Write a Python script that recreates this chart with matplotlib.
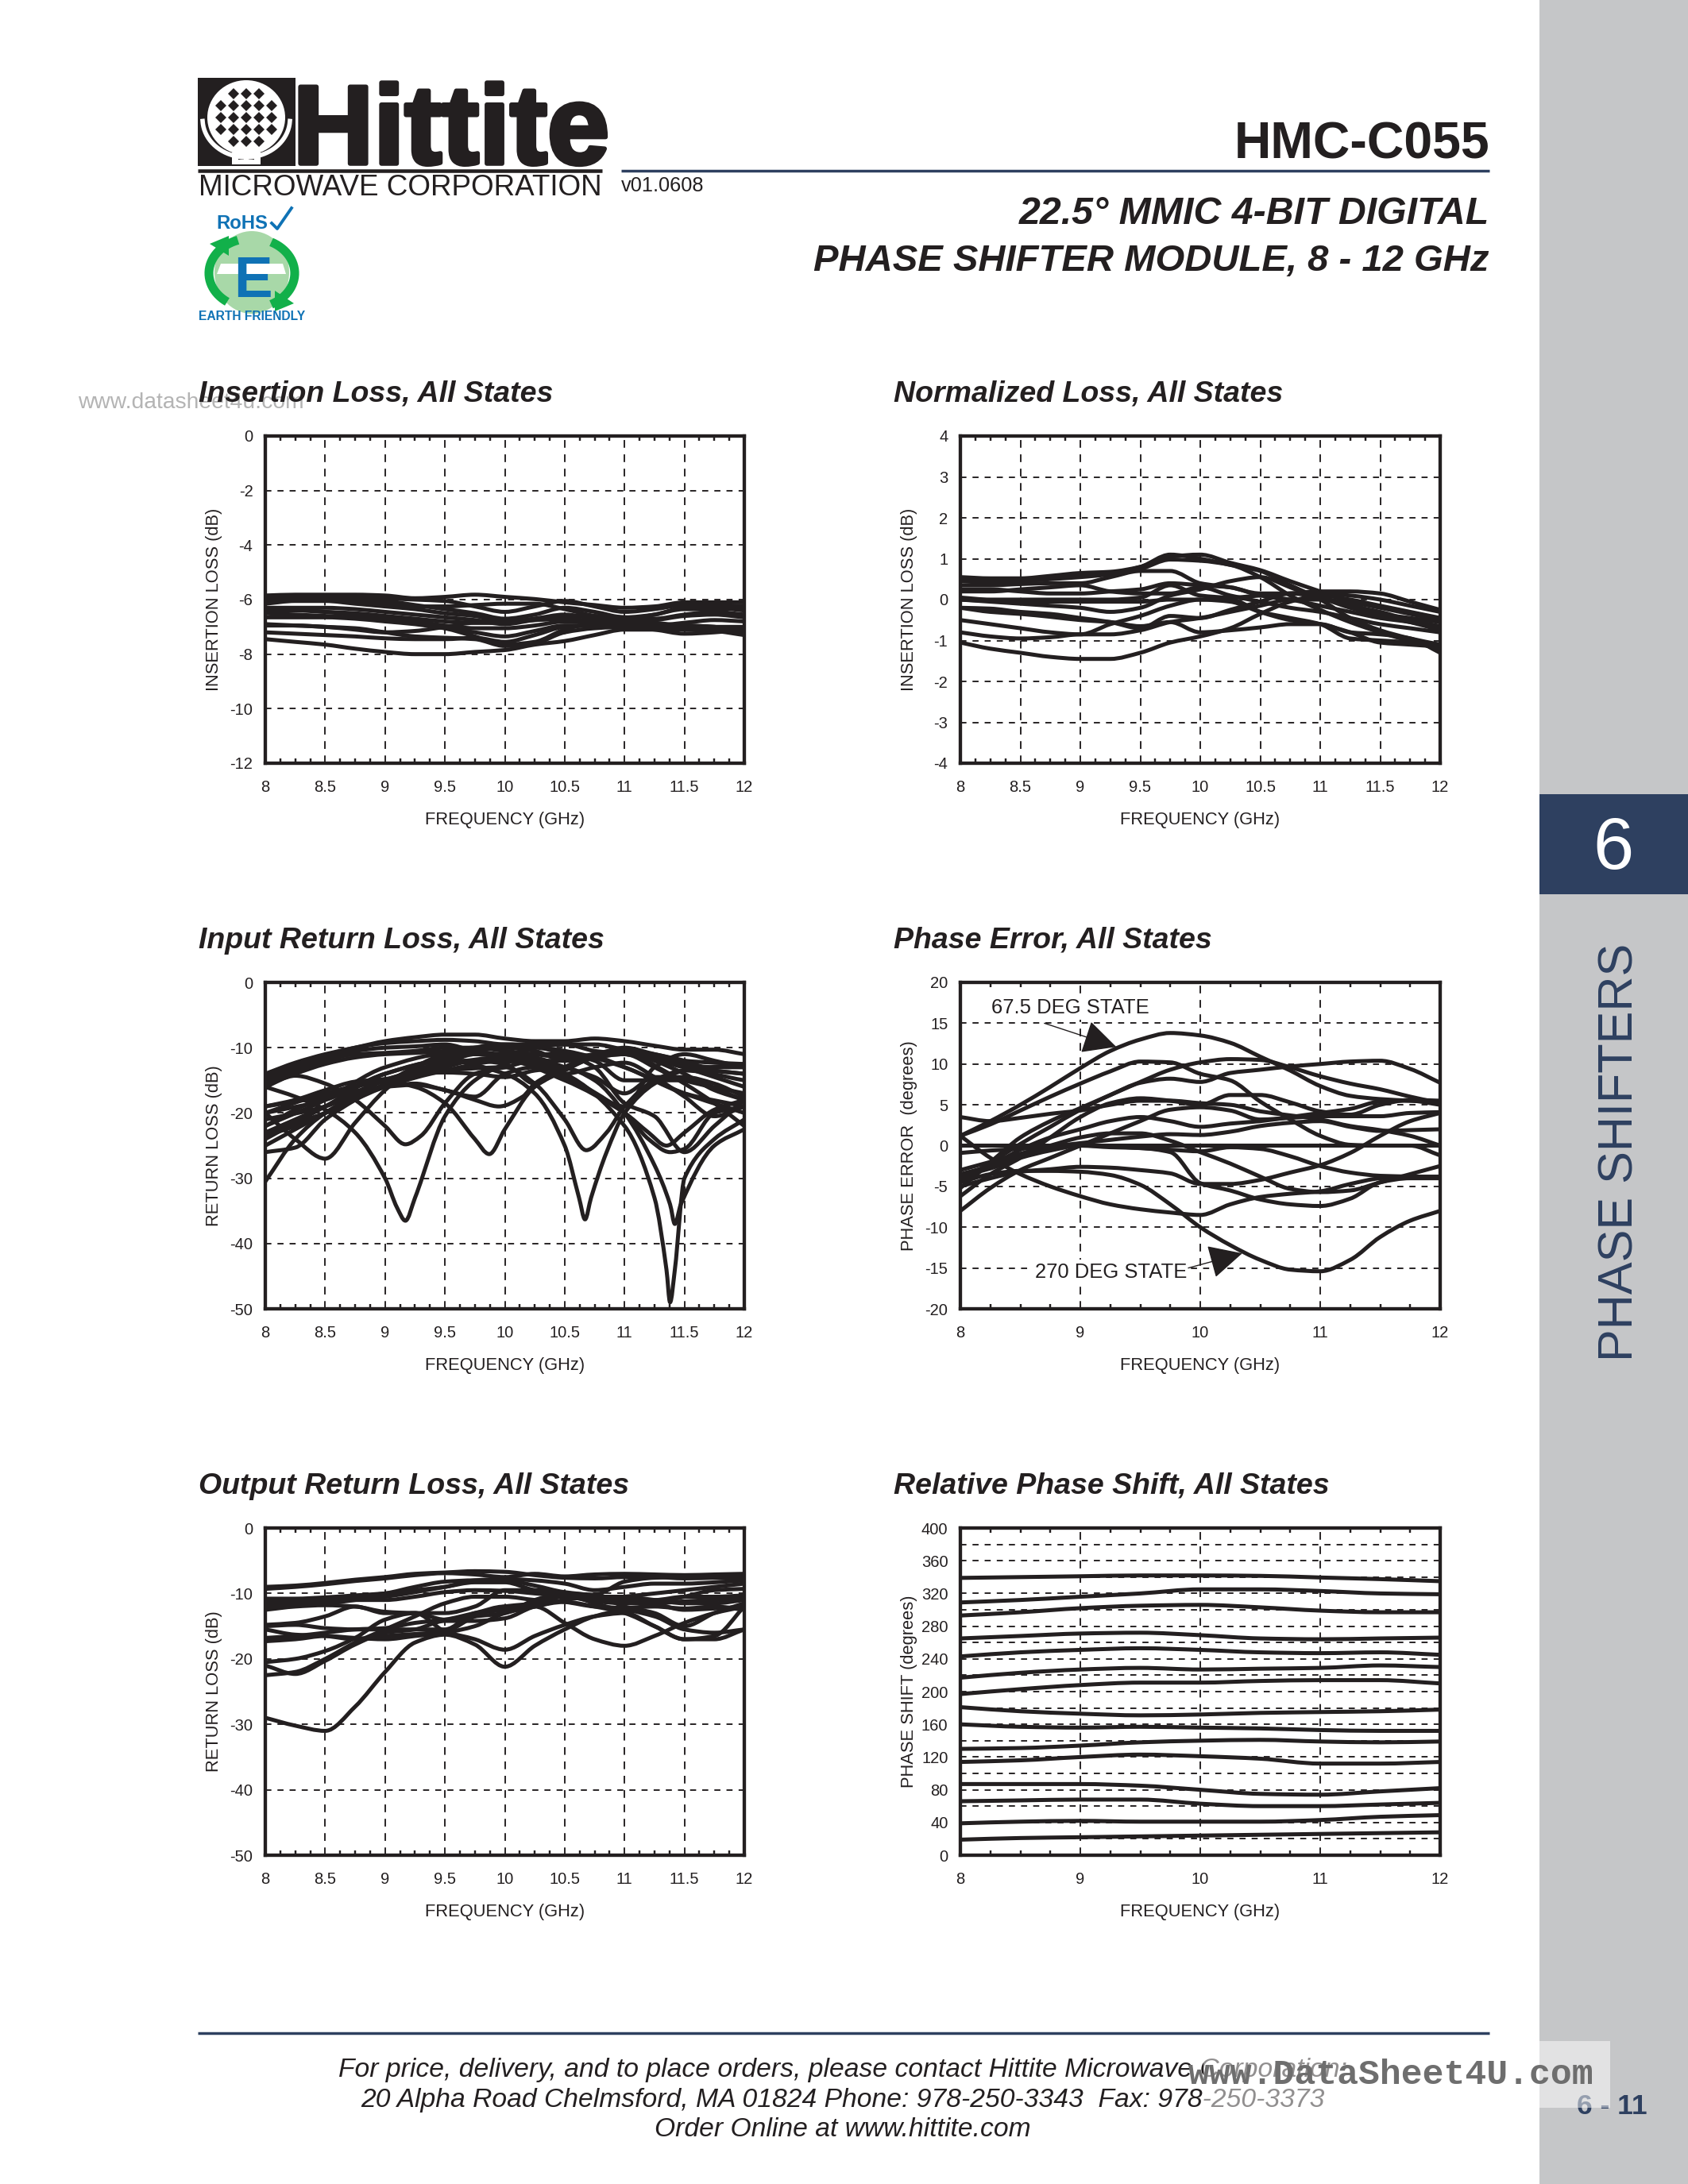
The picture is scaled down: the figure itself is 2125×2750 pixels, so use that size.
import numpy as np
import matplotlib
matplotlib.use('Agg')
import matplotlib.pyplot as plt
import matplotlib.patheffects as pe
from matplotlib.patches import Rectangle, Ellipse, Polygon, PathPatch
from matplotlib.path import Path
from matplotlib.ticker import MultipleLocator

plt.rcParams['font.family'] = ['Liberation Sans', 'DejaVu Sans']
plt.rcParams['lines.scale_dashes'] = False
plt.rcParams['axes.unicode_minus'] = False

INK = '#231f20'
NAVY = '#2e4060'
W, H = 2125, 2750

# shared frequency grids (GHz)
freq_q = [8, 8.25, 8.5, 8.75, 9, 9.25, 9.5, 9.75, 10, 10.25, 10.5, 10.75, 11, 11.25, 11.5, 11.75, 12]
freq_h = [8, 8.5, 9, 9.5, 10, 10.5, 11, 11.5, 12]

insertion_loss = [
    [-5.85, -5.82, -5.82, -5.82, -5.85, -5.95, -5.9, -5.82, -5.9, -5.98, -6.1, -6.2, -6.3, -6.25, -6.1, -6.1, -6.1],
    [-5.9, -5.85, -5.85, -5.9, -5.95, -6.0, -6.05, -6.25, -6.45, -6.25, -6.05, -6.25, -6.45, -6.35, -6.2, -6.2, -6.25],
    [-6.0, -5.95, -5.95, -6.0, -6.05, -6.2, -6.35, -6.5, -6.7, -6.55, -6.3, -6.45, -6.65, -6.55, -6.3, -6.3, -6.4],
    [-6.15, -6.05, -6.05, -6.15, -6.25, -6.35, -6.5, -6.6, -6.82, -6.7, -6.6, -6.6, -6.65, -6.7, -6.55, -6.45, -6.55],
    [-6.3, -6.3, -6.3, -6.35, -6.45, -6.55, -6.65, -6.75, -6.9, -6.75, -6.7, -6.85, -6.8, -6.75, -6.6, -6.55, -6.65],
    [-6.4, -6.4, -6.45, -6.5, -6.6, -6.7, -6.8, -6.85, -6.85, -6.7, -6.55, -6.7, -6.85, -6.95, -6.85, -6.75, -6.8],
    [-6.5, -6.55, -6.6, -6.65, -6.7, -6.8, -6.95, -7.05, -7.05, -6.95, -6.8, -6.85, -6.9, -7.0, -7.05, -7.0, -7.0],
    [-6.65, -6.65, -6.65, -6.7, -6.8, -6.9, -7.05, -7.2, -7.35, -7.15, -6.95, -6.95, -7.0, -7.05, -7.1, -7.05, -7.1],
    [-6.9, -6.95, -7.0, -7.1, -7.2, -7.15, -7.0, -6.85, -6.85, -6.75, -6.7, -6.8, -6.9, -7.0, -6.95, -7.0, -7.15],
    [-7.2, -7.25, -7.3, -7.35, -7.42, -7.45, -7.45, -7.4, -7.55, -7.3, -7.0, -6.95, -6.9, -7.0, -7.1, -7.15, -7.3],
    [-6.95, -6.95, -7.0, -7.05, -7.2, -7.35, -7.4, -7.45, -7.7, -7.6, -7.2, -7.05, -7.0, -7.1, -7.25, -7.2, -7.1],
    [-7.45, -7.55, -7.65, -7.8, -7.92, -8.0, -8.0, -7.92, -7.85, -7.65, -7.52, -7.3, -7.1, -7.1, -7.05, -7.1, -7.2],
    [-6.3, -6.35, -6.45, -6.55, -6.7, -6.85, -7.05, -7.35, -7.65, -7.55, -7.1, -6.85, -6.75, -6.55, -6.35, -6.35, -6.3],
    [-6.05, -6.0, -6.0, -6.05, -6.15, -6.25, -6.25, -6.2, -6.15, -6.15, -6.35, -6.6, -6.75, -6.85, -6.95, -7.0, -7.2],
]

normalized_loss = [
    [-1.05, -1.2, -1.3, -1.4, -1.45, -1.45, -1.3, -1.05, -0.9, -0.7, -0.35, -0.05, 0.1, 0.0, -0.15, -0.3, -0.45],
    [-0.8, -0.9, -0.95, -0.92, -0.85, -0.85, -0.75, -0.55, -0.45, -0.3, -0.15, 0.0, 0.0, -0.2, -0.4, -0.55, -0.75],
    [-0.5, -0.6, -0.7, -0.8, -0.85, -0.6, -0.4, -0.15, 0.0, 0.0, -0.3, -0.5, -0.6, -0.8, -1.05, -1.1, -1.15],
    [-0.2, -0.3, -0.35, -0.42, -0.5, -0.55, -0.65, -0.55, -0.8, -0.75, -0.68, -0.6, -0.6, -0.8, -0.85, -0.95, -1.3],
    [-0.2, -0.22, -0.3, -0.35, -0.45, -0.55, -0.7, -0.4, -0.45, -0.25, -0.05, 0.15, 0.15, 0.1, 0.0, -0.15, -0.3],
    [0.0, -0.05, -0.1, -0.15, -0.2, -0.3, -0.2, 0.1, 0.25, 0.45, 0.55, 0.3, 0.0, -0.45, -0.75, -0.95, -1.1],
    [0.0, -0.03, -0.05, -0.05, -0.05, -0.05, -0.05, 0.0, 0.0, -0.05, -0.3, -0.45, -0.6, -0.95, -1.0, -1.05, -1.2],
    [0.05, 0.0, 0.0, 0.0, 0.0, 0.0, 0.05, 0.35, 0.1, 0.05, 0.1, 0.15, 0.2, 0.2, 0.15, -0.05, -0.25],
    [0.2, 0.2, 0.25, 0.3, 0.35, 0.2, 0.15, 0.15, 0.3, 0.1, -0.05, -0.2, -0.3, -0.45, -0.6, -0.7, -0.8],
    [0.25, 0.25, 0.2, 0.15, 0.15, 0.2, 0.25, 0.4, 0.35, 0.3, 0.1, 0.0, -0.15, -0.3, -0.45, -0.55, -0.7],
    [0.35, 0.35, 0.38, 0.4, 0.4, 0.55, 0.7, 0.7, 0.4, 0.3, 0.15, 0.15, 0.05, -0.15, -0.3, -0.5, -0.65],
    [0.45, 0.42, 0.45, 0.5, 0.55, 0.62, 0.75, 0.98, 0.95, 0.85, 0.55, 0.1, -0.25, -0.55, -0.8, -1.0, -1.1],
    [0.5, 0.48, 0.5, 0.55, 0.62, 0.65, 0.8, 1.1, 1.0, 0.85, 0.7, 0.35, 0.05, -0.1, -0.35, -0.45, -0.55],
    [0.55, 0.52, 0.52, 0.58, 0.65, 0.68, 0.8, 1.05, 1.1, 0.9, 0.72, 0.45, 0.2, -0.05, -0.2, -0.35, -0.5],
]

# input return loss, smooth states on the quarter GHz grid
input_rl = [
    [-14, -12.3, -11, -10, -9, -8.4, -8, -8, -8.6, -9, -9, -8.6, -9, -9.7, -10.3, -10.3, -11],
    [-14.5, -12.8, -11.2, -10, -9.3, -9, -8.8, -9, -9.5, -9.5, -9.5, -9.5, -10.3, -11, -12, -12.3, -12.5],
    [-15, -13.2, -11.5, -10.5, -10, -9.8, -9.5, -10.5, -11, -10, -9.5, -10.5, -11, -11.5, -12.5, -13, -13],
    [-15.5, -13.5, -12, -11, -10.8, -10.5, -10, -10, -10.5, -11, -11.5, -11, -10, -11, -12, -13.5, -14],
    [-15.8, -14, -12.5, -11.5, -11, -10.8, -10.5, -10, -10, -10.5, -12, -11, -10.5, -11.5, -13, -14.5, -16],
    [-19, -18, -16.5, -15.2, -14.8, -13.5, -12, -11, -11, -11.5, -13, -14.5, -17, -14.5, -14.5, -15.5, -17.5],
    [-22, -19.5, -17.5, -16, -15, -14, -13.8, -14, -14.5, -13.5, -13, -11.5, -10.5, -12, -14, -16.5, -18],
    [-23, -21, -19, -17, -16, -15.5, -16.5, -17.5, -14, -13, -14, -13, -12.3, -14.5, -17.5, -20.5, -19],
    [-23.5, -22, -20, -17.5, -16, -14.5, -13, -12, -12.5, -15.5, -13, -11.5, -11, -13, -15.5, -18.5, -22],
    [-26, -25.3, -21, -18, -15.5, -13, -11.5, -10.5, -10, -10, -11, -13, -18.5, -20.5, -26, -22, -18],
    [-30.5, -24, -20, -17.5, -15.7, -14, -12.5, -11, -11.5, -12, -14, -17, -19, -13, -11, -12, -13],
]
input_rl_dips_x = [
    [8, 8.25, 8.5, 8.75, 9, 9.1, 9.17, 9.25, 9.5, 9.75, 10, 10.25, 10.5, 10.75, 11, 11.5, 12],
    [8, 8.25, 8.5, 8.75, 9, 9.17, 9.3, 9.5, 9.75, 10, 10.25, 10.5, 10.75, 11, 11.5, 12],
    [8, 8.5, 9, 9.25, 9.5, 9.75, 9.87, 10, 10.25, 10.5, 10.75, 11, 11.5, 12],
    [8, 8.5, 9, 9.25, 9.5, 9.75, 9.95, 10.15, 10.25, 10.5, 10.75, 11, 11.5, 12],
    [8, 8.25, 8.5, 8.75, 9, 9.25, 9.5, 10, 10.5, 11, 11.5, 12],
    [8, 8.5, 9, 9.5, 10, 10.25, 10.5, 10.62, 10.67, 10.72, 10.85, 11, 11.25, 11.5, 12],
    [8, 8.5, 9, 9.5, 10, 10.25, 10.5, 10.68, 10.85, 11, 11.25, 11.5, 12],
    [8, 8.5, 9, 9.5, 10, 10.5, 11, 11.25, 11.35, 11.38, 11.42, 11.5, 11.75, 12],
    [8, 8.5, 9, 9.5, 10, 10.5, 10.75, 11, 11.25, 11.38, 11.42, 11.47, 11.75, 12],
    [8, 8.5, 9, 9.5, 10, 10.5, 11, 11.2, 11.35, 11.5, 11.75, 12],
    [8, 8.5, 9, 9.5, 10, 10.5, 11, 11.2, 11.38, 11.5, 11.75, 12],
]
input_rl_dips_y = [
    [-16, -17.5, -19.5, -23, -30, -34.5, -36.5, -33, -20.5, -15, -12.5, -11, -11, -12, -15, -15, -18],
    [-16, -14.3, -15.5, -18, -22, -24.8, -23.5, -18.5, -14, -13, -12, -12, -11.5, -13, -17, -20],
    [-20, -17, -15.2, -16, -18.5, -24, -26.3, -22.5, -16, -13.5, -11.5, -11, -15, -17],
    [-19, -17.5, -16, -15.7, -16.5, -18, -19, -17.5, -15.5, -13, -11, -10.5, -13, -14],
    [-20, -24, -27, -21.5, -16.5, -13, -11, -9.5, -10.5, -13, -17, -19],
    [-20, -18, -14, -12, -14, -17, -25, -33, -36.3, -33, -26, -20, -15.5, -13.5, -12.5],
    [-21, -19, -15, -13.5, -13, -15.5, -21, -25.7, -23, -19, -15, -13.5, -15],
    [-22, -18, -13, -11, -11, -14, -22, -33, -44, -49, -44, -30, -24, -21],
    [-23, -20, -16, -13.5, -12, -13, -15, -20, -28, -34, -37, -34, -25, -22.5],
    [-24, -19, -14, -12, -12, -15, -20, -23, -25, -23, -19.5, -18],
    [-25, -20, -15, -12.5, -11.5, -14.5, -20, -24, -26, -25.5, -20, -19],
]

output_rl = [
    [-29, -30.2, -31, -27.3, -22, -17.5, -16.3, -17.8, -21.2, -18, -15.5, -13.5, -12.6, -13.5, -15.5, -16, -15.5],
    [-20.5, -20, -18.8, -16.8, -14, -13, -15.8, -17, -18.6, -16.5, -14.8, -13.5, -13, -15, -17, -17, -15.5],
    [-16.8, -16.5, -16, -15.5, -15.3, -14.5, -14, -13, -12, -12, -14.5, -17, -18, -16.5, -14.5, -13, -12],
    [-22.5, -22, -20, -17.5, -15.5, -13.5, -11.5, -10.5, -10.5, -11, -11.3, -12, -12.2, -12, -12.3, -12, -12.5],
    [-21, -22.3, -20.3, -17.8, -16, -15.5, -14.2, -14.2, -13.8, -12, -11.3, -12, -13, -15, -17, -16.5, -12],
    [-17.3, -17, -16.5, -16.8, -17, -16.5, -16, -15, -13, -12, -11, -10.5, -10.5, -11.5, -12.5, -12.3, -12],
    [-15.5, -16.3, -16.5, -17, -16.5, -16.2, -15.8, -13.5, -12, -11.5, -10, -10.3, -12, -13, -15, -13, -11.5],
    [-15, -14.8, -15.3, -15.5, -15.5, -15.5, -15.5, -13, -12.5, -11.5, -10.5, -11, -10.5, -11, -11.5, -11.5, -11],
    [-14.8, -14.5, -13.5, -12, -13, -13, -14, -13.5, -13, -11, -10, -10.8, -11, -11, -10.5, -10.5, -10.3],
    [-12.5, -12, -11.8, -12, -12.8, -13, -13, -12, -9.5, -9.5, -10, -11.5, -12.5, -11.5, -10.5, -9.5, -9.3],
    [-11.5, -11.5, -11.5, -11, -10.5, -9.8, -9, -8.3, -8.3, -9.5, -10, -11, -10.5, -10, -9.5, -9, -8.5],
    [-10.8, -10.8, -10.6, -10.3, -10, -9.5, -9, -8, -7.8, -8, -8.5, -9.5, -9, -8.5, -8.5, -8.3, -8],
    [-11, -11.2, -11, -10.5, -10, -9, -8.2, -8, -8, -8.8, -9.8, -10.2, -8.2, -7.6, -7.5, -7.6, -7.8],
    [-9, -8.8, -8.4, -7.9, -7.5, -7, -6.8, -6.6, -6.7, -7.2, -7.6, -7.7, -7.5, -7.5, -7.7, -7.6, -7.4],
    [-9.3, -9, -8.6, -8.1, -7.7, -7.2, -6.9, -7.1, -7.5, -7, -7.4, -7.1, -7, -7.1, -7.2, -7.1, -7],
    [-12, -11.5, -11.2, -11, -11, -10.5, -9.8, -9.5, -9.6, -10, -10.4, -11.2, -11.5, -11.5, -11.2, -11, -10.8],
]

phase_error = [
    [1.2, 3.0, 5.0, 7.2, 9.5, 11.6, 13.0, 13.8, 13.5, 12.6, 10.9, 9.2, 7.3, 6.1, 5.7, 5.5, 5.3],
    [1.2, 2.6, 4.3, 6.0, 7.6, 9.1, 10.3, 10.2, 8.8, 8.0, 5.4, 3.2, 1.2, 0.1, 0.0, 0.0, -1.2],
    [-4.5, -2, 1, 3, 4.6, 6.2, 7.8, 9.3, 10.2, 10.6, 10.5, 9.6, 8.5, 7.6, 6.9, 6.0, 5.2],
    [-5.2, -2.2, 0.2, 2.3, 4.4, 6.2, 7.7, 8.2, 7.8, 8.9, 9.3, 9.7, 10, 10.3, 10.4, 9.4, 7.7],
    [-6.2, -3.5, -1.5, 1, 3.5, 5.2, 5.8, 5.5, 5.0, 6.2, 6.2, 5.3, 4.2, 3.8, 5.0, 5.6, 5.5],
    [3.5, 3, 3.4, 3.9, 4.3, 5, 5.5, 5.5, 5.2, 5, 4.2, 3.7, 3.2, 2.4, 1.9, 1.2, 0],
    [-8, -5.2, -3, -1.5, 0, 1.5, 3, 4.4, 4.7, 4.3, 3.2, 3.4, 3.6, 3.6, 3.6, 4.0, 4.1],
    [1.2, -1.5, -3.5, -5, -6.2, -7.2, -7.8, -8.2, -8.5, -7.2, -6.3, -5.9, -5.6, -4.7, -4, -3.8, -3.8],
    [-4.5, -3.5, -3.1, -3.1, -3.2, -3.6, -4.8, -7.2, -10, -12.2, -14, -15.2, -15.4, -14, -11.2, -9.2, -8],
    [-5, -4, -3.2, -2.9, -2.6, -2.7, -3, -3.4, -4.7, -4.7, -4.2, -3.3, -2.4, -0.9, 1.2, 3, 4],
    [-3.5, -2.5, -1.2, -0.3, 0, -0.2, -0.3, -0.8, -4.6, -5.5, -6.6, -7.2, -7.4, -6.5, -4.5, -4, -4],
    [-3, -2, -1, 0, 1, 1.5, 1.5, 0.6, -0.8, -2.2, -3.8, -5.3, -5.7, -5.5, -4.5, -3.5, -2.5],
    [-0.9, -0.6, -0.4, -0.1, 0.3, 0.7, 1.1, 1.4, 1.3, 1.7, 2.4, 2.8, 3, 2.3, 1.8, 1.9, 2],
    [-4, -2.5, -0.5, 1, 2, 3, 3.5, 3, 2.3, 2.7, 3, 3.5, 4, 4.5, 5.4, 5.5, 5],
    [0, 0, 0, 0, 0, 0, 0, 0, 0, 0, 0, 0, 0, 0, 0, 0, 0],
    [-3.7, -2.8, -1.5, -0.6, 0, -0.1, -0.3, -0.5, -0.7, -0.2, -0.4, -1.3, -2.5, -3.3, -3.7, -3.8, -4],
]

relative_phase = [
    [339, 340, 341, 342, 342, 341.5, 339.5, 337.5, 335],
    [309, 312, 316, 320, 325, 325, 323, 320, 319],
    [293, 297, 302, 305, 306, 303, 299, 297, 297],
    [265, 268, 271, 272, 269, 265, 264, 265, 266],
    [243, 248, 251, 253, 251, 248, 247, 248, 245],
    [217, 223, 227, 229, 227, 228, 229, 232, 230],
    [197, 203, 208, 211, 211, 213, 214, 214, 210],
    [181, 176, 173, 171, 172, 174, 175, 176, 178],
    [160, 157, 156, 157, 156, 155, 153, 152, 152],
    [130, 131, 134, 138, 140, 141, 139, 138, 139],
    [114, 116, 120, 123, 121, 118, 112, 112, 114],
    [87, 87, 87, 85, 80, 75, 74, 78, 82],
    [66, 67, 68, 68, 63, 60, 60, 62, 64],
    [39, 41, 42, 41, 41, 41, 43, 47, 49],
    [19, 21, 22, 23, 24, 25, 26, 27, 28],
]

x_half = [8, 8.5, 9, 9.5, 10, 10.5, 11, 11.5, 12]
x_half_labels = ['8', '8.5', '9', '9.5', '10', '10.5', '11', '11.5', '12']
x_one = [8, 9, 10, 11, 12]
x_one_labels = ['8', '9', '10', '11', '12']

fig = plt.figure(figsize=(8.5, 11), dpi=250, facecolor='white')

# page layer in pixel coordinates
bg = fig.add_axes([0, 0, 1, 1], zorder=0)
bg.set_xlim(0, W)
bg.set_ylim(H, 0)
bg.axis('off')

# side tab
bg.add_patch(Rectangle((1938, 0), W - 1938, H, fc='#c5c6c8', ec='none'))
bg.add_patch(Rectangle((1938, 1000), W - 1938, 126, fc=NAVY, ec='none'))
bg.text(2031, 1070, '6', color='white', fontsize=26.5, ha='center', va='center')
bg.text(2040, 1451, 'PHASE SHIFTERS', color=NAVY, fontsize=17.6, rotation=90, ha='center', va='center')

# header rules
bg.plot([782, 1875], [215, 215], color=NAVY, lw=1.0, solid_capstyle='butt')
bg.plot([249, 1875], [2560, 2560], color=NAVY, lw=1.0, solid_capstyle='butt')

# Hittite logo
bg.add_patch(Rectangle((249, 98), 123, 111, fc=INK, ec='none'))
bg.add_patch(Ellipse((310, 148), 98, 94, fc='white', ec='none'))
t = np.linspace(0.05, np.pi - 0.05, 40)
bg.plot(310 + 55 * np.cos(t), 150 + 48 * np.sin(t), color='white', lw=1.6)
bg.add_patch(Rectangle((292, 192), 36, 15, fc='white', ec='none'))
bg.add_patch(Rectangle((300, 196), 7, 5, fc=INK, ec='none'))
bg.add_patch(Rectangle((313, 196), 7, 5, fc=INK, ec='none'))
for dx in (-32, -16, 0, 16, 32):
    for dy in (-30, -15, 0, 15, 30):
        if dx * dx + dy * dy < 1500:
            bg.plot(310 + dx, 148 + dy, marker='D', ms=2.9, color=INK, mew=0)
bg.plot([249, 758], [215, 215], color=INK, lw=1.3, solid_capstyle='butt')
bg.text(568, 206, 'Hittite', color=INK, fontsize=40.5, fontweight='bold', ha='center', va='baseline',
        path_effects=[pe.withStroke(linewidth=1.6, foreground=INK)])
bg.text(504, 246, 'MICROWAVE CORPORATION', color=INK, fontsize=10.6, ha='center', va='baseline')
bg.text(782, 241, 'v01.0608', color=INK, fontsize=7.3, ha='left', va='baseline')

# RoHS / earth friendly mark
bg.text(272, 288, 'RoHS', color='#0f72b5', fontsize=6.9, fontweight='bold', ha='left', va='baseline')
bg.plot([342, 349, 367], [281, 288, 262], color='#0f72b5', lw=1.1)
bg.add_patch(Ellipse((317, 343), 94, 104, fc='#a8d8a8', ec='none'))
bg.add_patch(Polygon([[273, 345], [360, 345], [356, 332], [278, 332]], fc='white', ec='none'))
bg.add_patch(Polygon([[317, 296], [338, 332], [296, 332]], fc='#a8d8a8', ec='none'))
a1 = np.linspace(1.9, 4.1, 30)
bg.plot(317 + 54 * np.cos(a1), 344 - 44 * np.sin(a1), color='#12b04a', lw=3.2, solid_capstyle='butt')
a2 = np.linspace(-1.1, 1.1, 30)
bg.plot(317 + 54 * np.cos(a2), 344 - 44 * np.sin(a2), color='#12b04a', lw=3.2, solid_capstyle='butt')
bg.add_patch(Polygon([[288, 297], [288, 322], [264, 307]], fc='#12b04a', ec='none'))
bg.add_patch(Polygon([[346, 392], [346, 366], [370, 382]], fc='#12b04a', ec='none'))
bg.text(318, 374, 'E', color='#0f72b5', fontsize=21, fontweight='bold', ha='center', va='baseline')
bg.text(250, 403, 'EARTH FRIENDLY', color='#0f72b5', fontsize=4.5, fontweight='bold', ha='left', va='baseline')

# header titles
bg.text(1875, 199, 'HMC-C055', color=INK, fontsize=18.5, fontweight='bold', ha='right', va='baseline')
bg.text(1875, 282, '22.5° MMIC 4-BIT DIGITAL', color=INK, fontsize=13.9, fontweight='bold', style='italic', ha='right', va='baseline')
bg.text(1875, 341, 'PHASE SHIFTER MODULE, 8 - 12 GHz', color=INK, fontsize=13.6, fontweight='bold', style='italic', ha='right', va='baseline')

# scraped watermark behind the first title
bg.text(98, 507, 'www.datasheet4u.com', color='#b4b4b4', fontsize=8.15, ha='left', va='center', zorder=1)

# footer
foot = ['For price, delivery, and to place orders, please contact Hittite Microwave Corporation:',
        '20 Alpha Road Chelmsford, MA 01824 Phone: 978-250-3343  Fax: 978-250-3373',
        'Order Online at www.hittite.com']
for yy, line in zip([2606, 2644, 2682], foot):
    bg.text(1061, yy, line, color=INK, fontsize=9.7, style='italic', ha='center', va='center')
bg.text(2029, 2652, '6 - 11', color=NAVY, fontsize=10.2, fontweight='bold', ha='center', va='center')
bg.add_patch(Rectangle((1515, 2570), 512, 84, fc='white', ec='none', alpha=0.5, zorder=4))
bg.text(1751, 2612, 'www.DataSheet4U.com', color='#6e6e6e', fontsize=12.9, fontweight='bold',
        family=['Liberation Mono', 'DejaVu Sans'], ha='center', va='center', zorder=5)


def panel(left, right, top, bottom, ylim, yticks, ylabels, xticks, xlabels, xminor,
          title, ylabel, yminor=None):
    ax = fig.add_axes([left / W, 1 - bottom / H, (right - left) / W, (bottom - top) / H],
                      zorder=2, facecolor='none')
    ax.set_xlim(8, 12)
    ax.set_ylim(*ylim)
    ax.set_xticks(xticks, labels=xlabels)
    ax.set_yticks(yticks, labels=ylabels)
    ax.xaxis.set_minor_locator(MultipleLocator(xminor))
    if yminor:
        ax.yaxis.set_minor_locator(MultipleLocator(yminor))
    else:
        ax.yaxis.set_minor_locator(plt.NullLocator())
    ax.tick_params(axis='x', which='major', length=0, pad=6, labelsize=5.8, labelcolor=INK)
    ax.tick_params(axis='y', which='both', length=0, pad=4.5, labelsize=5.8, labelcolor=INK)
    ax.tick_params(axis='x', which='minor', direction='in', top=True, bottom=True,
                   length=1.6, width=0.7, color=INK)
    ax.grid(True, axis='x', which='major', color=INK, lw=0.55, linestyle=(0, (2.8, 2.4)))
    ax.grid(True, axis='y', which='both', color=INK, lw=0.55, linestyle=(0, (2.2, 2.2)))
    ax.set_axisbelow(True)
    for s in ax.spines.values():
        s.set_linewidth(1.25)
        s.set_color(INK)
    ax.set_xlabel('FREQUENCY (GHz)', fontsize=6.3, color=INK)
    ax.xaxis.set_label_coords(0.5, -0.148)
    ax.set_ylabel(ylabel, fontsize=6.3, color=INK)
    ax.yaxis.set_label_coords(-0.089, 0.5)
    bg.text(left - 84, top - 53, title, color=INK, fontsize=10.8, fontweight='bold', style='italic',
            ha='left', va='center')
    return ax


def curve(ax, xs, ys):
    # one state as a smooth cubic through its read values, flat at each turning point
    xs = np.asarray(xs, float)
    ys = np.asarray(ys, float)
    s = np.diff(ys) / np.diff(xs)
    m = np.zeros_like(ys)
    m[0], m[-1] = s[0], s[-1]
    for i in range(1, len(ys) - 1):
        if s[i - 1] * s[i] > 0:
            m[i] = 2 * s[i - 1] * s[i] / (s[i - 1] + s[i])
    verts = [(xs[0], ys[0])]
    codes = [Path.MOVETO]
    for i in range(len(xs) - 1):
        h = (xs[i + 1] - xs[i]) / 3
        verts += [(xs[i] + h, ys[i] + m[i] * h), (xs[i + 1] - h, ys[i + 1] - m[i + 1] * h), (xs[i + 1], ys[i + 1])]
        codes += [Path.CURVE4] * 3
    ax.add_patch(PathPatch(Path(verts, codes), fc='none', ec=INK, lw=LW, capstyle='round', joinstyle='round'))


LW = 1.45
X1, X2 = 334, 937
X3, X4 = 1209, 1813
half_args = (x_half, x_half_labels, 0.125)
one_args = (x_one, x_one_labels, 0.25)

# Insertion loss
ax = panel(X1, X2, 549, 961, (-12, 0), [0, -2, -4, -6, -8, -10, -12],
           ['0', '-2', '-4', '-6', '-8', '-10', '-12'], *half_args,
           'Insertion Loss, All States', 'INSERTION LOSS (dB)')
for y in insertion_loss:
    curve(ax, freq_q, y)

# Normalized loss
ax = panel(X3, X4, 549, 961, (-4, 4), [4, 3, 2, 1, 0, -1, -2, -3, -4],
           ['4', '3', '2', '1', '0', '-1', '-2', '-3', '-4'], *half_args,
           'Normalized Loss, All States', 'INSERTION LOSS (dB)')
for y in normalized_loss:
    curve(ax, freq_q, y)

# Input return loss
rl_ticks = [0, -10, -20, -30, -40, -50]
rl_labels = ['0', '-10', '-20', '-30', '-40', '-50']
ax = panel(X1, X2, 1237, 1648, (-50, 0), rl_ticks, rl_labels, *half_args,
           'Input Return Loss, All States', 'RETURN LOSS (dB)')
for y in input_rl:
    curve(ax, freq_q, y)
for xs, ys in zip(input_rl_dips_x, input_rl_dips_y):
    curve(ax, xs, ys)

# Phase error
ax = panel(X3, X4, 1237, 1648, (-20, 20), [20, 15, 10, 5, 0, -5, -10, -15, -20],
           ['20', '15', '10', '5', '0', '-5', '-10', '-15', '-20'], *one_args,
           'Phase Error, All States', 'PHASE ERROR  (degrees)')
for y in phase_error:
    curve(ax, freq_q, y)
note_box = dict(fc='white', ec='none', pad=1.0)
ax.text(8.26, 16.9, '67.5 DEG STATE', fontsize=7.4, color=INK, va='center', ha='left', bbox=note_box)
ax.text(8.62, -15.5, '270 DEG STATE', fontsize=7.4, color=INK, va='center', ha='left', bbox=note_box)
arrow = dict(arrowstyle='-|>,head_length=0.6,head_width=0.3', color=INK, lw=0.4, shrinkA=0, shrinkB=0, mutation_scale=18)
ax.annotate('', xy=(9.3, 12.1), xytext=(8.7, 15), arrowprops=arrow)
ax.annotate('', xy=(10.35, -13.2), xytext=(9.9, -15), arrowprops=arrow)

# Output return loss
ax = panel(X1, X2, 1924, 2336, (-50, 0), rl_ticks, rl_labels, *half_args,
           'Output Return Loss, All States', 'RETURN LOSS (dB)')
for y in output_rl:
    curve(ax, freq_q, y)

# Relative phase shift
ax = panel(X3, X4, 1924, 2336, (0, 400), [400, 360, 320, 280, 240, 200, 160, 120, 80, 40, 0],
           ['400', '360', '320', '280', '240', '200', '160', '120', '80', '40', '0'], *one_args,
           'Relative Phase Shift, All States', 'PHASE SHIFT (degrees)', yminor=20)
for y in relative_phase:
    curve(ax, freq_h, y)

fig.savefig('out.png', dpi=250, facecolor='white')
